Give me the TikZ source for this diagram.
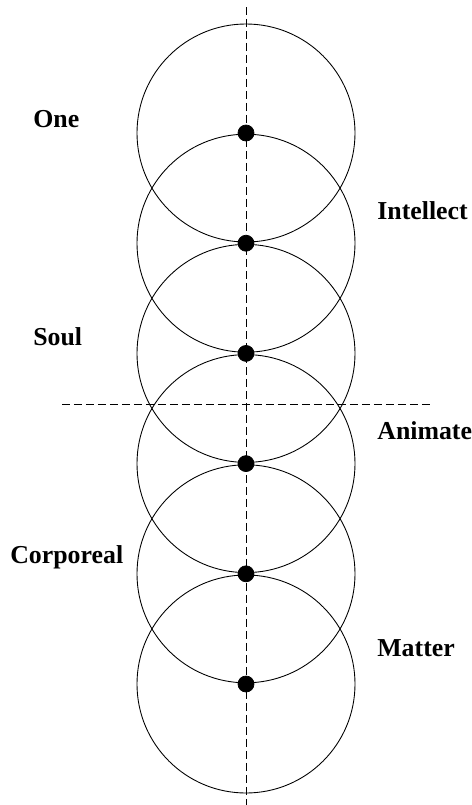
\documentclass[tikz,border=0pt]{standalone}
\usepackage{fontspec}
\setmainfont{Liberation Serif}
\usepackage{tikz}
\usetikzlibrary{positioning,calc}

\begin{document}
\begin{tikzpicture}[x=0.02cm,y=-0.02cm]
  \tikzstyle{level}=[draw,fill,circle,inner sep=0pt,minimum size=0.32cm]
  \tikzstyle{sphere}=[line width=0.5pt]
  \tikzstyle{axis}=[line width=0.5pt,dash pattern=on 0.16cm off 0.08cm]
  \tikzstyle{tag}=[anchor=base west,inner sep=0pt,font=\fontsize{14.7}{17}\selectfont\bfseries]
  \useasboundingbox (0,0) rectangle (472,805);

  \coordinate (axistop) at (246,7);
  \coordinate (axisbot) at (246,805);
  \coordinate (cutleft) at (62,404);
  \coordinate (cutright) at (432,404);

  \node[level] (one) at (246,133) {};
  \node[level] (intellect) at (246,243.2) {};
  \node[level] (soul) at (246,353.4) {};
  \node[level] (animate) at (246,463.6) {};
  \node[level] (corporeal) at (246,573.8) {};
  \node[level] (matter) at (246,684) {};

  \draw[sphere] (one.center) circle (109);
  \draw[sphere] (intellect.center) circle (109);
  \draw[sphere] (soul.center) circle (109);
  \draw[sphere] (animate.center) circle (109);
  \draw[sphere] (corporeal.center) circle (109);
  \draw[sphere] (matter.center) circle (109);

  \draw[axis] (axistop) -- (axisbot);
  \draw[axis] (cutleft) -- (cutright);

  \node[tag] (onelabel) at (33,127) {One};
  \node[tag] (intellectlabel) at (377,219) {Intellect};
  \node[tag] (soullabel) at (33,345) {Soul};
  \node[tag] (animatelabel) at (377,439) {Animate};
  \node[tag] (corporeallabel) at (10,563) {Corporeal};
  \node[tag] (matterlabel) at (377,656) {Matter};
\end{tikzpicture}
\end{document}
